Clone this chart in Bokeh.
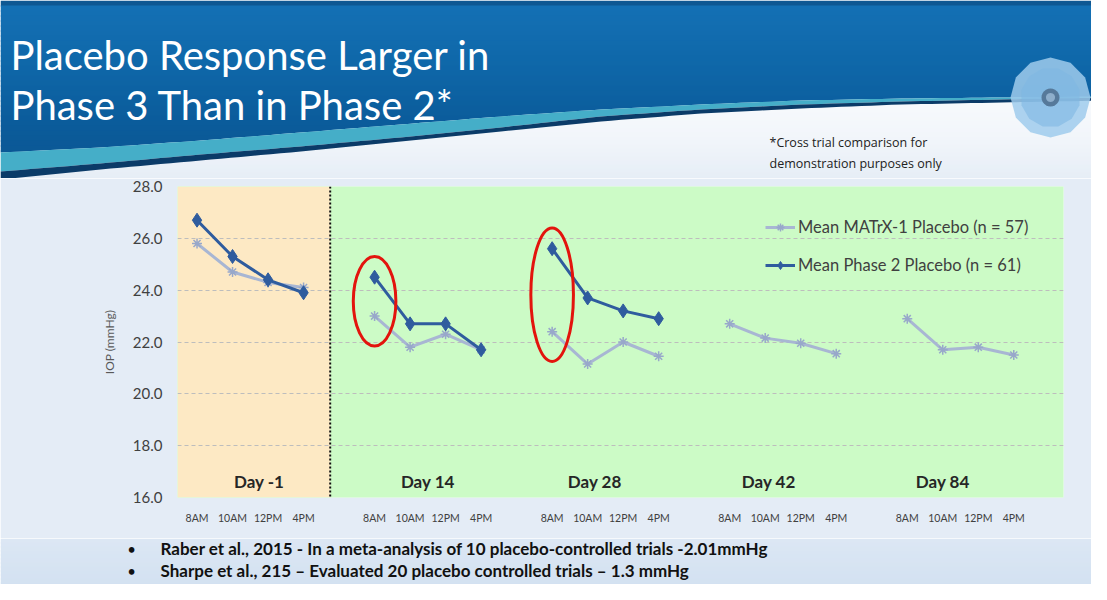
import math
import numpy as np
from bokeh.plotting import figure
from bokeh.layouts import column
from bokeh.models import (Range1d, BoxAnnotation, Legend, LegendItem, Label,
                          FixedTicker, NumeralTickFormatter, Span, ColumnDataSource)
from bokeh.core.properties import value
from bokeh.embed import file_html
from bokeh.resources import INLINE

# ---------------- data ----------------
days = ["Day -1", "Day 14", "Day 28", "Day 42", "Day 84"]
times = ["8AM", "10AM", "12PM", "4PM"]
matrx1_placebo = [25.8, 24.7, 24.3, 24.1,
                  23.0, 21.8, 22.3, 21.7,
                  22.4, 21.15, 22.0, 21.45,
                  22.7, 22.15, 21.95, 21.55,
                  22.9, 21.7, 21.8, 21.5]
phase2_placebo = [26.7, 25.3, 24.4, 23.9,
                  24.5, 22.7, 22.7, 21.7,
                  25.6, 23.7, 23.2, 22.9,
                  None, None, None, None,
                  None, None, None, None]
highlight_days = ["Day 14", "Day 28"]
y_ticks = [16, 18, 20, 22, 24, 26, 28]
series_labels = ["Mean MATrX-1 Placebo (n = 57)", "Mean Phase 2 Placebo (n = 61)"]
y_label = "IOP (mmHg)"
title_lines = ["Placebo Response Larger in", "Phase 3 Than in Phase 2*"]
note_lines = ["*Cross trial comparison for", "demonstration purposes only"]
bullets = ["Raber et al., 2015 - In a meta-analysis of 10 placebo-controlled trials -2.01mmHg",
           "Sharpe et al., 215 \u2013 Evaluated  20 placebo controlled trials \u2013 1.3 mmHg"]

# ---------------- helpers ----------------
W = 1091
H_TOP, H_MID, H_BOT = 178, 360, 46
Y_MID0 = H_TOP
Y_BOT0 = H_TOP + H_MID

def hexmix(c1, c2, t):
    a = [int(c1[i:i + 2], 16) for i in (1, 3, 5)]
    b = [int(c2[i:i + 2], 16) for i in (1, 3, 5)]
    return "#%02x%02x%02x" % tuple(int(round(a[k] + (b[k] - a[k]) * t)) for k in range(3))

def grad(stops, y):
    if y <= stops[0][0]:
        return stops[0][1]
    for (y0, c0), (y1, c1) in zip(stops[:-1], stops[1:]):
        if y0 <= y <= y1:
            return hexmix(c0, c1, (y - y0) / (y1 - y0))
    return stops[-1][1]

def deco_fig(h):
    f = figure(width=W, height=h, x_range=Range1d(0, W), y_range=Range1d(h, 0),
               output_backend="svg", toolbar_location=None, title=None,
               x_axis_type=None, y_axis_type=None, frame_align=False,
               min_border_left=0, min_border_right=0, min_border_top=0, min_border_bottom=0)
    f.outline_line_color = None
    f.xgrid.visible = False
    f.ygrid.visible = False
    f.border_fill_color = None
    return f

# ---------------- top: banner ----------------
top = deco_fig(H_TOP)
bg_stops = [(90, "#F9FBFD"), (140, "#F1F5FA"), (178, "#E6EDF6")]
for y0 in range(0, H_TOP, 4):
    top.quad(left=0, right=W, top=y0, bottom=y0 + 5, fill_color=grad(bg_stops, y0 + 2),
             line_color=None)

curve_x = [0, 100, 200, 300, 400, 500, 600, 700, 800, 900, 1000, 1107]
teal_top = [152, 147, 140, 132, 124, 116, 109, 104, 100, 98, 97, 96]
teal_bot = [171, 163, 154, 146, 137, 127, 116, 109, 104, 101, 99, 97]
navy_bot = [179, 169, 160, 151, 141, 131, 121, 113, 108, 104, 102, 100]
xs_f = np.linspace(0, W, 110)
tt = np.interp(xs_f, curve_x, teal_top)
tb = np.interp(xs_f, curve_x, teal_bot)
nb = np.interp(xs_f, curve_x, navy_bot)

ban_stops = [(0, "#0C4A80"), (7, "#1470B4"), (60, "#0F68AA"), (120, "#0B5C9B"), (180, "#0A5592")]
bstep = 5
for y0 in range(0, 180, bstep):
    y1 = y0 + bstep + 1
    bottom = np.clip(tt, y0, y1)
    if np.all(bottom <= y0):
        continue
    top.patch(x=list(xs_f) + list(xs_f[::-1]), y=[y0] * len(xs_f) + list(bottom[::-1]),
              fill_color=grad(ban_stops, y0 + bstep / 2), line_color=None)
top.patch(x=list(xs_f) + list(xs_f[::-1]), y=list(tt) + list(tb[::-1]),
          fill_color="#45AEC8", line_color=None)
top.patch(x=list(xs_f) + list(xs_f[::-1]), y=list(tb) + list(nb[::-1]),
          fill_color="#0B3B68", line_color=None)

def ngon(cxr, cyr, r, n, rot=0.0):
    ang = [rot + 2 * math.pi * k / n for k in range(n)]
    return [cxr + r * math.cos(a) for a in ang], [cyr + r * math.sin(a) for a in ang]

for r, col, al, rot, n in [(40, "#9FCBEC", 0.85, 0.0, 12), (30, "#7FB7E3", 0.6, math.pi / 12, 12),
                           (9, "#56799A", 1.0, 0.0, 24), (4.5, "#8EAECB", 1.0, 0.0, 24)]:
    lx, ly = ngon(1050, 97, r, n, rot)
    top.patch(x=lx, y=ly, fill_color=col, fill_alpha=al, line_color=None)

for k, line in enumerate(title_lines):
    top.text(x=[10], y=[54 + 50 * k], text=[line], text_font=value("Lato"),
             text_font_size=value("40px"), text_color="white",
             text_baseline="alphabetic", text_align="left")

for k, line in enumerate(note_lines):
    top.text(x=[769], y=[142 + 21 * k], text=[line], text_font=value("Open Sans"),
             text_font_size=value("12.5px"), text_color="#222222",
             text_baseline="middle", text_align="left")

# ---------------- middle: chart ----------------
nan = float("nan")
n_t = len(times)
pitch = n_t + 1
x_line, m_line, p_line = [], [], []
tick_x, tick_over = [], {}
for g, day in enumerate(days):
    for t, lab in enumerate(times):
        i = g * n_t + t
        x = g * pitch + t
        x_line.append(x)
        m_line.append(matrx1_placebo[i])
        p_line.append(nan if phase2_placebo[i] is None else phase2_placebo[i])
        tick_x.append(x)
        tick_over[x] = lab
    if g < len(days) - 1:
        x_line.append(g * pitch + n_t)
        m_line.append(nan)
        p_line.append(nan)

src = ColumnDataSource(dict(x=np.array(x_line, dtype=float),
                            m=np.array(m_line, dtype=float),
                            p=np.array(p_line, dtype=float)))

FL, FR = 177, 1063
FT, FB = 186 - Y_MID0, 497 - Y_MID0
XMIN, XMAX = -0.55, 24.4

p = figure(width=W, height=H_MID, x_range=Range1d(XMIN, XMAX), y_range=Range1d(16, 28),
           output_backend="svg", toolbar_location=None, title=None, frame_align=False,
           min_border_left=FL, min_border_right=W - FR,
           min_border_top=FT, min_border_bottom=H_MID - FB)
p.border_fill_color = "#E4ECF6"
p.background_fill_color = "#CCFBC6"
p.outline_line_color = None

sep_x = (n_t - 1) + 0.75
p.add_layout(BoxAnnotation(right=sep_x, fill_color="#FDE9C4", fill_alpha=1, line_color=None,
                           level="image"))
p.add_layout(Span(location=sep_x, dimension="height", line_color="#111111",
                  line_dash="2 2", line_width=2))

p.yaxis.ticker = FixedTicker(ticks=y_ticks)
p.yaxis.formatter = NumeralTickFormatter(format="0.0")
p.yaxis.axis_label = y_label
p.yaxis.axis_label_text_font = "Lato"
p.yaxis.axis_label_text_font_style = "normal"
p.yaxis.axis_label_text_font_size = "12px"
p.yaxis.axis_label_text_color = "#595959"
p.yaxis.axis_label_standoff = 13
p.yaxis.major_label_text_font = "Lato"
p.yaxis.major_label_text_font_size = "15px"
p.yaxis.major_label_text_color = "#404040"
p.yaxis.major_tick_out = 0
p.yaxis.major_tick_in = 0
p.yaxis.major_label_standoff = 15
p.yaxis.minor_tick_line_color = None
p.yaxis.major_tick_line_color = None
p.yaxis.axis_line_color = None

p.xaxis.ticker = FixedTicker(ticks=tick_x)
p.xaxis.major_label_overrides = tick_over
p.xaxis.major_label_text_font = "Lato"
p.xaxis.major_label_text_font_size = "10.5px"
p.xaxis.major_label_text_color = "#404040"
p.xaxis.major_tick_out = 0
p.xaxis.major_tick_in = 0
p.xaxis.major_label_standoff = 14
p.xaxis.minor_tick_line_color = None
p.xaxis.major_tick_line_color = None
p.xaxis.axis_line_color = None

p.xgrid.visible = False
p.ygrid.grid_line_color = "#BDBDBD"
p.ygrid.grid_line_dash = "4 3"
p.ygrid.grid_line_width = 1

day_label_x = [1.75, 6.5, 11.2, 16.1, 21.0]
for d, xl in zip(days, day_label_x):
    p.add_layout(Label(x=xl, y=16.6, text=d, text_font="Lato", text_font_size="17px",
                       text_font_style="bold", text_color="#262626",
                       text_align="center", text_baseline="middle"))

gray = "#A8B6D3"
blue = "#2F5C9E"
lm = p.line("x", "m", source=src, line_color=gray, line_width=3)
sm = p.scatter("x", "m", source=src, marker="asterisk", size=10, line_color="#98A8CA", line_width=1.5)
lp = p.line("x", "p", source=src, line_color=blue, line_width=3)
sp = p.scatter("x", "p", source=src, marker="diamond", size=14, fill_color=blue, line_color=blue)

ex, ey, eh = [], [], []
for d in highlight_days:
    g = days.index(d)
    i = g * n_t
    t_ = phase2_placebo[i] + 0.8
    b_ = matrx1_placebo[i] - 1.15
    ex.append(g * pitch)
    ey.append((t_ + b_) / 2)
    eh.append(t_ - b_)
p.ellipse(x=ex, y=ey, width=1.2, height=eh, fill_color=None, line_color="#E3140D", line_width=3)

legend = Legend(items=[LegendItem(label=series_labels[0], renderers=[lm, sm]),
                       LegendItem(label=series_labels[1], renderers=[lp, sp])],
                location=(588, 222), orientation="vertical")
legend.label_text_font = "Lato"
legend.label_text_font_size = "16.5px"
legend.label_text_color = "#404040"
legend.glyph_width = 30
legend.glyph_height = 20
legend.spacing = 18
legend.padding = 0
legend.margin = 0
legend.label_standoff = 3
legend.background_fill_alpha = 0
legend.border_line_alpha = 0
p.add_layout(legend)

# ---------------- bottom: bullets ----------------
bot = deco_fig(H_BOT)
bot_stops = [(0, "#DCE7F4"), (H_BOT, "#D3E1F1")]
for y0 in range(0, H_BOT, 4):
    bot.quad(left=0, right=W, top=y0, bottom=y0 + 5, fill_color=grad(bot_stops, y0 + 2),
             line_color=None)
for k, line in enumerate(bullets):
    yy = 548 + 22 * k - Y_BOT0
    bot.text(x=[131], y=[yy], text=["\u2022"], text_font=value("Lato"),
             text_font_size=value("15px"), text_color="#111111",
             text_baseline="middle", text_align="center")
    bot.text(x=[160], y=[yy], text=[line], text_font=value("Lato"),
             text_font_size=value("17px"), text_color="#111111", text_font_style="bold",
             text_baseline="middle", text_align="left")

layout = column(top, p, bot, spacing=0)
open("out.html", "w").write(file_html(layout, INLINE))
